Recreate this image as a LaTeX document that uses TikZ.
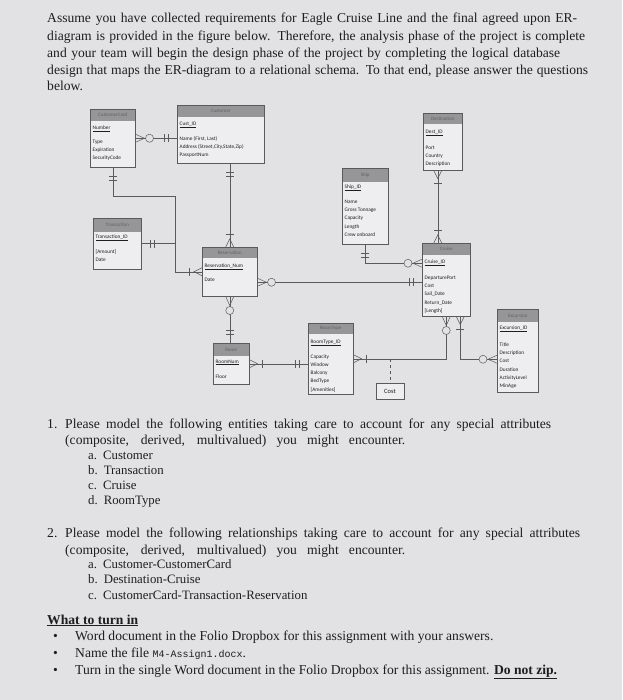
\documentclass[tikz,border=0pt]{standalone}
\usepackage{fontspec}
\setmainfont{Liberation Serif}
\newfontfamily\erfont{Carlito}
\newfontfamily\codefont{Liberation Mono}
\usepackage{tikz}
\usetikzlibrary{positioning}
\definecolor{pageGray}{RGB}{226,226,228}
\definecolor{boxFill}{RGB}{238,238,240}
\definecolor{hdrGray}{RGB}{150,150,152}
\definecolor{lineGray}{RGB}{90,90,92}
\definecolor{inkGray}{RGB}{30,30,32}

% entity box: name, position, width, height, header height, title, attributes
\newcommand{\erent}[7]{%
  \node[ent=#5, minimum width=#3, minimum height=#4] (#1) at (#2) {};
  \node[enttitle] at ([yshift={-#5pt/2}]#1.north) {#6};
  \node[entattr] at ([shift={(2.5pt,-16.5pt)}]#1.north west) {#7};
}

\begin{document}
\begin{tikzpicture}[x=1pt,y=-1pt,
    txt/.style={anchor=base west, inner sep=0pt, text=inkGray, font=\fontsize{13.6}{16}\selectfont},
    subtxt/.style={txt, font=\fontsize{12.8}{15}\selectfont},
    ent/.style={draw=lineGray, fill=boxFill, line width=0.5pt, anchor=north west, inner sep=0pt,
      path picture={\fill[hdrGray] (path picture bounding box.north west) rectangle ([yshift=-#1pt]path picture bounding box.north east);}},
    enttitle/.style={inner sep=0pt, text=black!62, font=\erfont\fontsize{5}{6}\selectfont},
    entattr/.style={anchor=north west, align=left, inner sep=0pt, text=inkGray, font=\erfont\fontsize{5.3}{8.2}\selectfont},
    costbox/.style={draw=lineGray, fill=boxFill, line width=0.5pt, inner sep=0pt, minimum width=28pt, minimum height=16pt, text=inkGray, font=\erfont\fontsize{6.5}{7}\selectfont},
    conn/.style={draw=lineGray, line width=0.5pt},
    manymand/.pic={\draw[conn] (0,-4) -- (8,0) -- (0,4); \draw[conn] (13,-4) -- (13,4);},
    manyopt/.pic={\draw[conn] (0,-4) -- (9,0) -- (0,4); \draw[conn, fill=pageGray] (14,0) circle[radius=4];},
    onlyone/.pic={\draw[conn] (9,-4) -- (9,4) (13,-4) -- (13,4);}]
\fill[pageGray] (0,0) rectangle (622,700);
\useasboundingbox (0,0) rectangle (622,700);

% introduction
\node[txt] (p1) at (47,23) {\makebox[530pt][s]{Assume you have collected requirements for Eagle Cruise Line and the final agreed upon ER-}};
\node[txt] (p2) at (47,41) {\makebox[538pt][s]{diagram is provided in the figure below.  Therefore, the analysis phase of the project is complete}};
\node[txt] (p3) at (47,58) {\makebox[513pt][s]{and your team will begin the design phase of the project by completing the logical database}};
\node[txt] (p4) at (47,75) {\makebox[541pt][s]{design that maps the ER-diagram to a relational schema. To that end, please answer the questions}};
\node[txt] (p5) at (47,91) {below.};

% entities
\erent{card}{90,109}{45pt}{58pt}{12}{CustomerCard}{\underline{Number}\\[6pt]Type\\Expiration\\SecurityCode}
\erent{cust}{177,105}{87pt}{58pt}{12}{Customer}{\underline{Cust\_ID}\\[7pt]Name (First, Last)\\Address (Street,City,State,Zip)\\PassportNum}
\erent{dest}{423,113}{39pt}{57pt}{11}{Destination}{\underline{Dest\_ID}\\[8pt]Port\\Country\\Description}
\erent{ship}{342,168}{46pt}{76pt}{14}{Ship}{\underline{Ship\_ID}\\[7pt]Name\\Gross Tonnage\\Capacity\\Length\\Crew onboard}
\erent{trans}{93,218}{48pt}{51pt}{14}{Transaction}{\underline{Transaction\_ID}\\[7pt][Amount]\\Date}
\erent{resv}{202,247}{55pt}{49pt}{11}{Reservation}{\underline{Reservation\_Num}\\[6pt]Date}
\erent{cruise}{422,243}{48pt}{73pt}{12}{Cruise}{\underline{Cruise\_ID}\\[8pt]DeparturePort\\Cost\\Sail\_Date\\Return\_Date\\{[Length]}}
\erent{room}{213,343}{36pt}{41pt}{13}{Room}{\underline{RoomNum}\\[7pt]Floor}
\erent{rtype}{308,323}{45pt}{71pt}{11}{RoomType}{\underline{RoomType\_ID}\\[7pt]Capacity\\Window\\Balcony\\BedType\\{[Amenities]}}
\erent{excur}{497,309}{41pt}{83pt}{13}{Excursion}{\underline{Excursion\_ID}\\[9pt]Title\\Description\\Cost\\Duration\\ActivityLevel\\MinAge}
\node[costbox] (cost) at (390,391) {Cost};

% connectors
\coordinate (jTop) at (175,196);
\coordinate (resvR) at ([yshift=-10.5pt]resv.east);
\coordinate (cruiseL) at ([yshift=16.5pt]cruise.west);
\coordinate (cruiseR) at ([xshift=14pt]cruise.south);
\coordinate (excurL) at ([yshift=-8.5pt]excur.west);
\coordinate (destB) at ([xshift=-5pt]dest.south);
\draw[conn] (card.east) -- (card.east -| cust.west);
\draw[conn] (card.south) |- (jTop) |- (resv.west);
\draw[conn] (trans.east) -- (trans.east -| jTop);
\draw[conn] (resv.north |- cust.south) -- (resv.north);
\draw[conn] (resvR) -- (resvR -| cruise.west);
\draw[conn] (resv.south) -- (resv.south |- room.north);
\draw[conn] (room.east) -- (room.east -| rtype.west);
\draw[conn] (rtype.east) -| (cruise.south);
\draw[conn, dashed] (rtype.east -| cost.north) -- (cost.north);
\draw[conn] (cruiseR) |- (excurL);
\draw[conn] (ship.south) |- (cruiseL);
\draw[conn] (destB) -- (destB |- cruise.north);

\pic at (card.east) {manyopt};
\pic[rotate=180] at (card.east -| cust.west) {onlyone};
\pic[rotate=-90] at (card.south) {onlyone};
\pic at (trans.east) {onlyone};
\pic[rotate=180] at (resv.west) {manymand};
\pic[rotate=-90] at (resv.north |- cust.south) {onlyone};
\pic[rotate=90] at (resv.north) {manymand};
\pic at (resvR) {manyopt};
\pic[rotate=180] at (resvR -| cruise.west) {onlyone};
\pic[rotate=-90] at (resv.south) {manyopt};
\pic[rotate=90] at (resv.south |- room.north) {onlyone};
\pic at (room.east) {manymand};
\pic[rotate=180] at (room.east -| rtype.west) {onlyone};
\pic at (rtype.east) {manymand};
\pic[rotate=-90] at (cruise.south) {manyopt};
\pic[rotate=-90] at (cruiseR) {manymand};
\pic[rotate=180] at (excurL) {manyopt};
\pic[rotate=-90] at (ship.south) {onlyone};
\pic[rotate=180] at (cruiseL) {manyopt};
\pic[rotate=-90] at (destB) {manymand};
\pic[rotate=90] at (destB |- cruise.north) {manymand};

% questions
\node[txt] (q1n) at (47,428) {1.};
\node[txt] (q1) at (65,428) {\makebox[486pt][s]{Please model the following entities taking care to account for any special attributes}};
\node[txt] (q1b) at (65,444) {\makebox[340pt][s]{(composite, derived, multivalued) you might encounter.}};
\node[subtxt] (q1a) at (88,459) {a.\hspace{6pt}Customer};
\node[subtxt] (q1c) at (88,474) {b.\hspace{6pt}Transaction};
\node[subtxt] (q1d) at (88,489) {c.\hspace{6pt}Cruise};
\node[subtxt] (q1e) at (88,504) {d.\hspace{6pt}RoomType};
\node[txt] (q2n) at (47,537) {2.};
\node[txt] (q2) at (65,537) {\makebox[515pt][s]{Please model the following relationships taking care to account for any special attributes}};
\node[txt] (q2b) at (65,554) {\makebox[340pt][s]{(composite, derived, multivalued) you might encounter.}};
\node[subtxt] (q2a) at (88,568) {a.\hspace{6pt}Customer-CustomerCard};
\node[subtxt] (q2c) at (88,583) {b.\hspace{6pt}Destination-Cruise};
\node[subtxt] (q2d) at (88,599) {c.\hspace{6pt}CustomerCard-Transaction-Reservation};

% what to turn in
\node[txt] (turn) at (47,624) {\textbf{\underline{What to turn in}}};
\node[txt] (b1) at (53,640) {\textbullet};
\node[txt] (t1) at (75,640) {Word document in the Folio Dropbox for this assignment with your answers.};
\node[txt] (b2) at (53,657) {\textbullet};
\node[txt] (t2) at (75,657) {Name the file {\codefont\fontsize{10}{12}\selectfont M4-Assign1.docx}.};
\node[txt] (b3) at (53,674) {\textbullet};
\node[txt] (t3) at (75,674) {Turn in the single Word document in the Folio Dropbox for this assignment. \textbf{\underline{Do not zip.}}};
\end{tikzpicture}
\end{document}
